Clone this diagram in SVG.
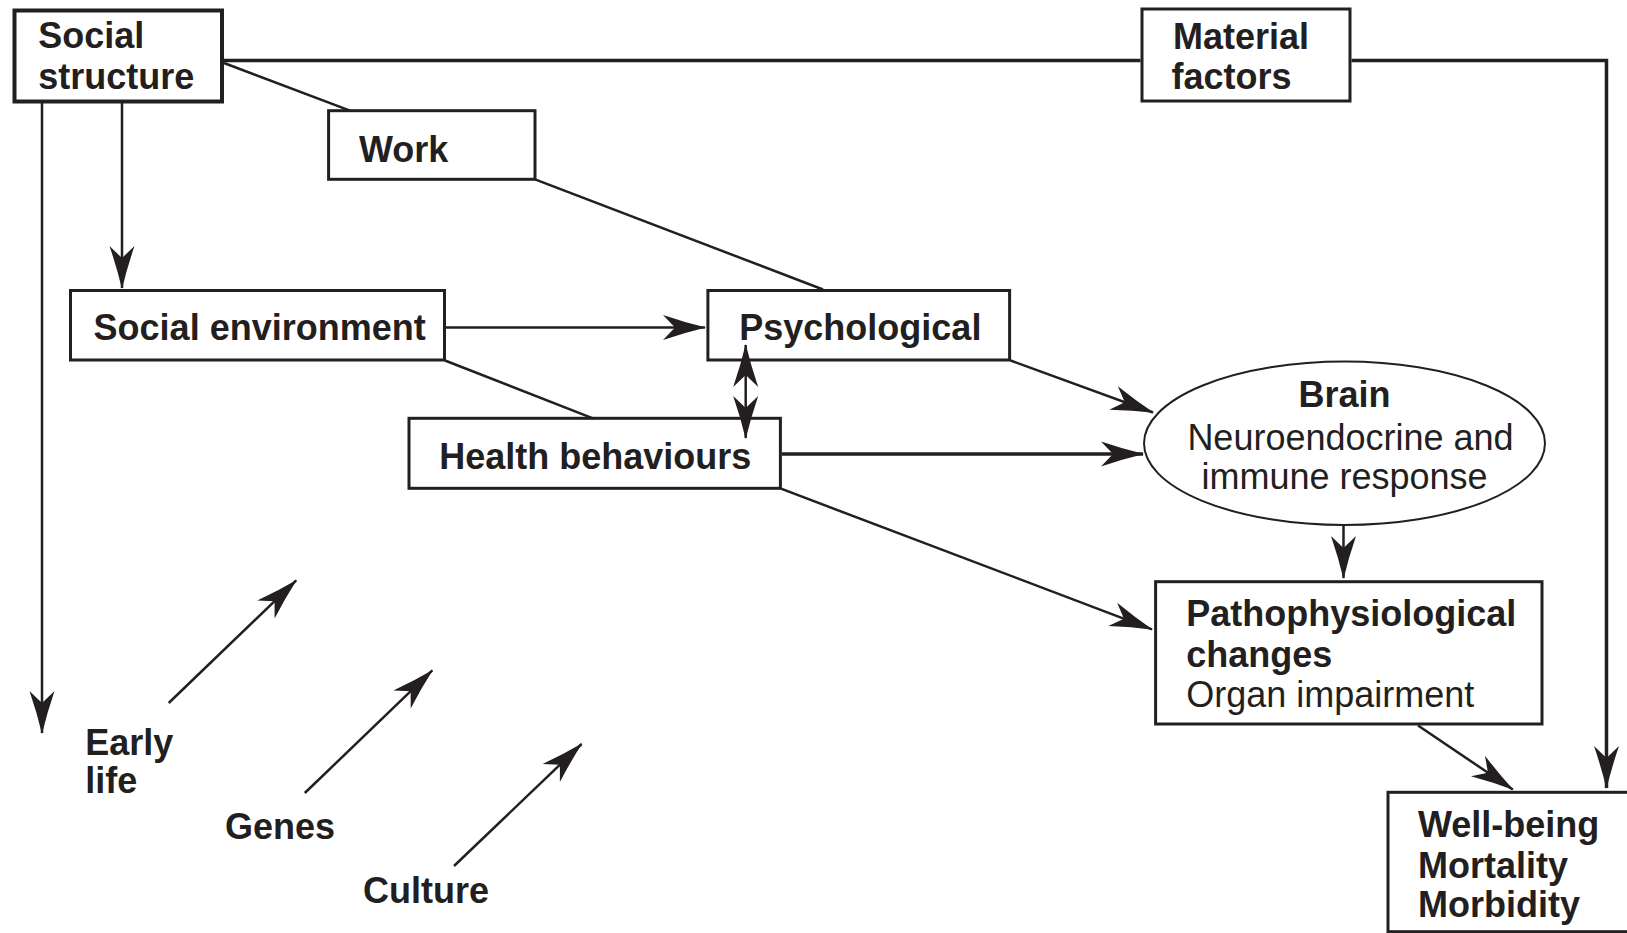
<svg xmlns="http://www.w3.org/2000/svg" width="1627" height="933" viewBox="0 0 1627 933">
<style>
.box{fill:#fff;stroke:#231f20;stroke-width:3}
.thick{stroke-width:4}
.t{font-family:"Liberation Sans",Arial,Helvetica,sans-serif;font-size:36px;fill:#231f20}
.b{font-weight:bold}
.c{fill:none;stroke:#231f20;stroke-width:2.5}
.a{marker-end:url(#ah)}
.w{stroke-width:3.5}
</style>
<defs>
<marker id="ah" markerUnits="userSpaceOnUse" markerWidth="46" markerHeight="30" viewBox="-44 -15 46 30" refX="0" refY="0" orient="auto-start-reverse">
<path d="M1,0 Q-20,-5 -42,-12.5 L-30,0 L-42,12.5 Q-20,5 1,0 Z" fill="#231f20"/>
</marker>
</defs>
<rect width="1627" height="933" fill="#fff"/>
<g id="social-structure">
<rect class="box thick" x="14.5" y="10.5" width="207.5" height="91"/>
<text class="t b" x="38.3" y="48.3">Social</text>
<text class="t b" x="38.3" y="89.3">structure</text>
</g>
<g id="material-factors">
<rect class="box" x="1142" y="9" width="208" height="92"/>
<text class="t b" x="1173" y="49.3">Material</text>
<text class="t b" x="1171.5" y="89.3">factors</text>
</g>
<g id="work">
<rect class="box" x="328.6" y="110.7" width="206.4" height="68.6"/>
<text class="t b" x="359" y="161.7">Work</text>
</g>
<g id="social-environment">
<rect class="box" x="70.5" y="290.5" width="374" height="69.5"/>
<text class="t b" x="93.6" y="340">Social environment</text>
</g>
<g id="psychological">
<rect class="box" x="707.9" y="290.5" width="301.7" height="69.5"/>
<text class="t b" x="739.3" y="339.5">Psychological</text>
</g>
<g id="health-behaviours">
<rect class="box" x="409" y="418.3" width="371.4" height="70"/>
<text class="t b" x="439.3" y="469">Health behaviours</text>
</g>
<g id="brain">
<ellipse cx="1344.5" cy="443.3" rx="200.5" ry="81.7" fill="#fff" stroke="#231f20" stroke-width="2"/>
<text class="t b" x="1344.5" y="407.3" text-anchor="middle">Brain</text>
<text class="t" x="1350.5" y="450" text-anchor="middle">Neuroendocrine and</text>
<text class="t" x="1344.5" y="489" text-anchor="middle">immune response</text>
</g>
<g id="pathophysiological">
<rect class="box" x="1155.6" y="581.7" width="386.4" height="142.3"/>
<text class="t b" x="1186.2" y="626">Pathophysiological</text>
<text class="t b" x="1186.2" y="666.7">changes</text>
<text class="t" x="1186.2" y="706.7">Organ impairment</text>
</g>
<g id="well-being">
<rect class="box" x="1388" y="792.3" width="260" height="139.4"/>
<text class="t b" x="1418" y="836.7">Well-being</text>
<text class="t b" x="1418" y="877.5">Mortality</text>
<text class="t b" x="1418" y="916.7">Morbidity</text>
</g>
<g id="early-life">
<text class="t b" x="85.3" y="755">Early</text>
<text class="t b" x="85.3" y="793">life</text>
</g>
<g id="genes">
<text class="t b" x="225" y="839">Genes</text>
</g>
<g id="culture">
<text class="t b" x="363" y="903">Culture</text>
</g>
<g id="connectors">
<path class="c w" d="M223.5,60.5 H1140.5"/>
<path class="c w a" d="M1351.5,60.5 H1606.5 V788"/>
<path class="c a" d="M42,103 V733"/>
<path class="c a" d="M122,103 V288"/>
<path class="c" d="M224,63 L350,110.7"/>
<path class="c" d="M535,179.3 L823,289.5"/>
<path class="c a" d="M446,327.5 H705"/>
<path class="c" d="M445,360.5 L593,418.3"/>
<path class="c" d="M745.7,345 V438" style="marker-start:url(#ah);marker-end:url(#ah)"/>
<path class="c a" d="M1010.5,360.5 L1153,412.5"/>
<path class="c w a" d="M782,454 H1143"/>
<path class="c a" d="M781,488.7 L1152,629.3"/>
<path class="c a" d="M1343.5,525.5 V578"/>
<path class="c a" d="M1418,725.5 L1512.8,789.5"/>
<path class="c a" d="M168.7,703 L296.2,580.4"/>
<path class="c a" d="M304.8,793 L432.3,670.4"/>
<path class="c a" d="M454,866 L581.6,744"/>
</g>
</svg>
